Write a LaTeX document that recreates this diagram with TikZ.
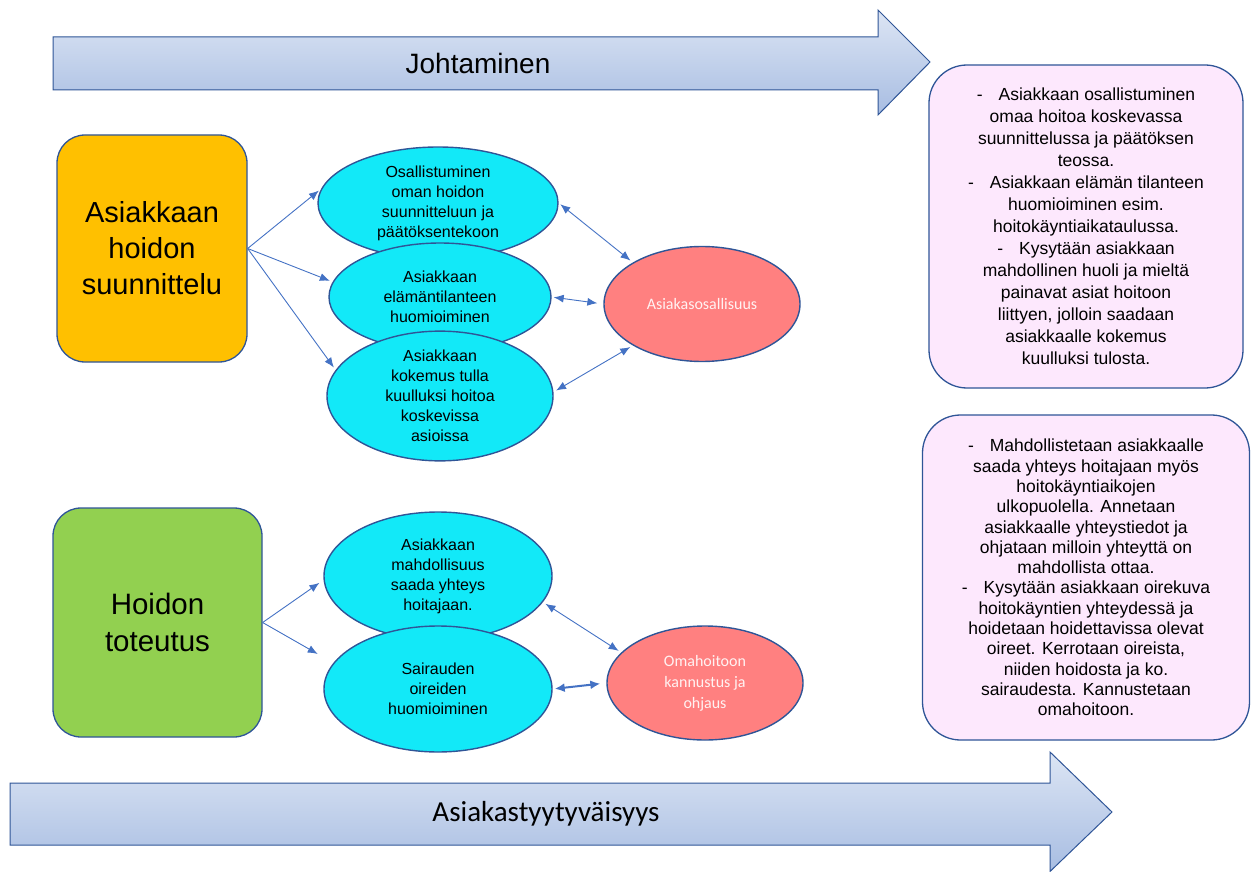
\documentclass[tikz,border=0pt]{standalone}
\usepackage{fontspec}
\setmainfont{Liberation Sans}
\newfontfamily\calib{Carlito}
\usetikzlibrary{shapes.geometric,arrows.meta,shadings}
\definecolor{bigtop}{HTML}{DCE5F4}
\definecolor{bigbot}{HTML}{A8BDE2}
\definecolor{edgeblue}{HTML}{2F5597}
\definecolor{linkblue}{HTML}{4472C4}
\definecolor{yel}{HTML}{FFC000}
\definecolor{grn}{HTML}{92D050}
\definecolor{cyanf}{HTML}{12E9F8}
\definecolor{redf}{HTML}{FF8080}
\definecolor{pinkf}{HTML}{FDE8FD}
\definecolor{redtext}{HTML}{FFF2F2}
\tikzset{
  bigarrow/.style={top color=bigtop, bottom color=bigbot, draw=edgeblue, line width=1pt},
  mainbox/.style={draw=edgeblue, line width=1.3pt, rounded corners=28pt, align=center, inner sep=0pt},
  cyanell/.style={ellipse, draw=edgeblue, line width=1.4pt, fill=cyanf, align=center, inner sep=0pt, font=\fontsize{16}{20}\selectfont},
  redell/.style={ellipse, draw=edgeblue, line width=1.4pt, fill=redf, align=center, inner sep=0pt, text=redtext, font=\calib\fontsize{16}{21}\selectfont},
  pinkbox/.style={draw=edgeblue, line width=1.3pt, fill=pinkf, rounded corners=38pt, align=center, inner sep=0pt},
  link/.style={draw=linkblue, line width=0.9pt, -{Latex[length=10pt,width=8pt]}},
  dlink/.style={draw=linkblue, line width=0.9pt, {Latex[length=10pt,width=8pt]}-{Latex[length=10pt,width=8pt]}},
}
\newcommand{\dsh}{-\hspace{16pt}}
\begin{document}
\begin{tikzpicture}[x=1pt,y=-1pt]
\useasboundingbox (0,0) rectangle (1251,872);
% big arrows
\shade[bigarrow] (53,37) -- (878,37) -- (878,10) -- (930,62) -- (878,115) -- (878,90) -- (53,90) -- cycle;
\node[font=\fontsize{28}{32}\selectfont] (joht) at (478,63) {Johtaminen};
\shade[bigarrow] (10,783) -- (1050,783) -- (1050,752) -- (1112,812) -- (1050,871.5) -- (1050,845) -- (10,845) -- cycle;
\node[font=\calib\fontsize{29}{32}\selectfont] (tyyt) at (546,814) {Asiakastyytyväisyys};
% main boxes
\node[mainbox, fill=yel, minimum width=190pt, minimum height=227pt, font=\fontsize{29}{36}\selectfont] (plan) at (152,248.5) {Asiakkaan\\hoidon\\suunnittelu};
\node[mainbox, fill=grn, minimum width=209pt, minimum height=229pt, font=\fontsize{29.5}{37}\selectfont] (tot) at (157.5,622.5) {Hoidon\\toteutus};
% cyan ellipses
\node[cyanell, minimum width=240pt, minimum height=112pt] (e1) at (438,203) {Osallistuminen\\oman hoidon\\suunnitteluun ja\\päätöksentekoon};
\node[cyanell, minimum width=222pt, minimum height=108pt] (e2) at (440,297) {Asiakkaan\\elämäntilanteen\\huomioiminen};
\node[cyanell, minimum width=226pt, minimum height=122pt] (e3) at (440,396) {Asiakkaan\\kokemus tulla\\kuulluksi hoitoa\\koskevissa\\asioissa};
\node[cyanell, minimum width=228pt, minimum height=128pt] (e4) at (438,576) {Asiakkaan\\mahdollisuus\\saada yhteys\\hoitajaan.};
\node[cyanell, minimum width=228pt, minimum height=126pt] (e5) at (438,689) {Sairauden\\oireiden\\huomioiminen};
% red ellipses
\node[redell, minimum width=196pt, minimum height=115pt] (r1) at (702,304) {Asiakasosallisuus};
\node[redell, minimum width=196pt, minimum height=114pt] (r2) at (705,683) {Omahoitoon\\kannustus ja\\ohjaus};
% pink boxes
\node[pinkbox, minimum width=314pt, minimum height=323pt, font=\fontsize{17.5}{22}\selectfont] (p1) at (1086,226.5) {\dsh Asiakkaan osallistuminen\\omaa hoitoa koskevassa\\suunnittelussa ja päätöksen\\teossa.\\\dsh Asiakkaan elämän tilanteen\\huomioiminen esim.\\hoitokäyntiaikataulussa.\\\dsh Kysytään asiakkaan\\mahdollinen huoli ja mieltä\\painavat asiat hoitoon\\liittyen, jolloin saadaan\\asiakkaalle kokemus\\kuulluksi tulosta.};
\node[pinkbox, minimum width=327pt, minimum height=325pt, font=\fontsize{17.5}{20.3}\selectfont] (p2) at (1086,577.5) {\dsh Mahdollistetaan asiakkaalle\\saada yhteys hoitajaan myös\\hoitokäyntiaikojen\\ulkopuolella. Annetaan\\asiakkaalle yhteystiedot ja\\ohjataan milloin yhteyttä on\\mahdollista ottaa.\\\dsh Kysytään asiakkaan oirekuva\\hoitokäyntien yhteydessä ja\\hoidetaan hoidettavissa olevat\\oireet. Kerrotaan oireista,\\niiden hoidosta ja ko.\\sairaudesta. Kannustetaan\\omahoitoon.};
% connectors
\draw[link, shorten >=3pt] (plan.east) -- (e1.173);
\draw[link, shorten >=3pt] (plan.east) -- (e2.172);
\draw[link, shorten >=3pt] (plan.east) -- (e3.166);
\draw[link, shorten >=5pt] (tot.east) -- (e4.182);
\draw[link, shorten >=18pt] (tot.east) -- (e5.166);
\draw[dlink, shorten <=2pt, shorten >=3pt] (e1.east) -- (r1.149);
\draw[dlink, shorten <=2pt, shorten >=6pt] (e2.east) -- (r1.180);
\draw[dlink, shorten <=3pt, shorten >=3pt] (e3.2) -- (r1.211);
\draw[dlink, shorten <=3pt, shorten >=3pt] (e4.-14) -- (r2.160);
\draw[draw=linkblue, line width=2pt, {Latex[length=10pt,width=9pt]}-{Latex[length=10pt,width=9pt]}, shorten <=2pt, shorten >=6pt] (e5.east) -- (r2.180);
\end{tikzpicture}
\end{document}
